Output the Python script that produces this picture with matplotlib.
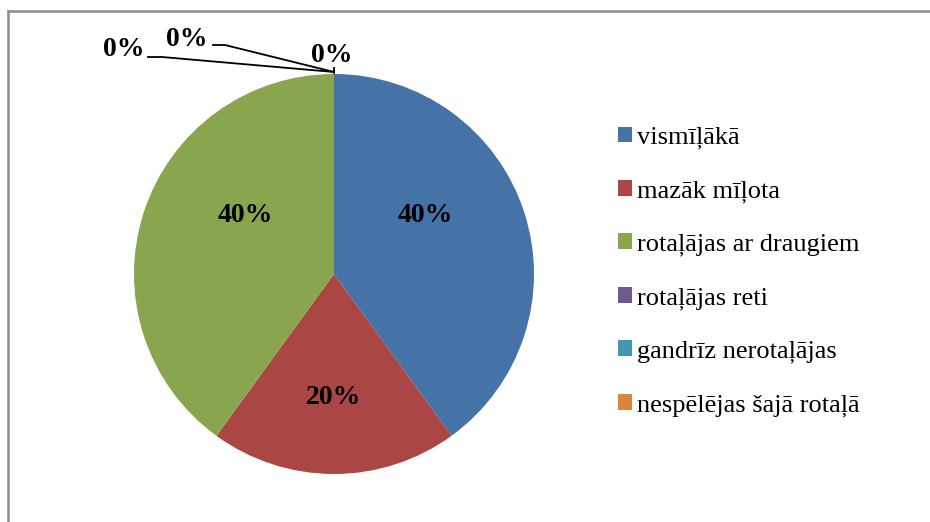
import matplotlib.pyplot as plt
from matplotlib.lines import Line2D
from matplotlib.patches import Rectangle

plt.rcParams['font.family'] = ['Liberation Serif', 'DejaVu Serif']

# data
categories = ['vismīļākā', 'mazāk mīļota', 'rotaļājas ar draugiem',
              'rotaļājas reti', 'gandrīz nerotaļājas', 'nespēlējas šajā rotaļā']
values = [40, 20, 40, 0, 0, 0]
colors = ['#4572A7', '#AA4643', '#89A54E', '#71588F', '#4198AF', '#DB843D']

fig = plt.figure(figsize=(9.3, 5.22), dpi=100)

# frame of the chart area
fig.add_artist(Line2D([8 / 930, 8 / 930], [0, 1 - 11 / 522], color='#8c8c8c', lw=1.8))
fig.add_artist(Line2D([8 / 930, 1], [1 - 11 / 522, 1 - 11 / 522], color='#8c8c8c', lw=1.8))

ax = fig.add_axes([134 / 930, 48 / 522, 400 / 930, 400 / 522])
wedges, _ = ax.pie(values, colors=colors, startangle=90, counterclock=False,
                   radius=1.0, wedgeprops=dict(linewidth=0))
ax.set_xlim(-1, 1)
ax.set_ylim(-1, 1)
ax.set_aspect('equal')

# percentage labels (positions like Excel's best fit)
total = sum(values)
label_pos = [(0.455, 0.295), (0.0, -0.62), (-0.445, 0.295),
             (-1.05, 1.12), (-0.735, 1.17), (-0.01, 1.09)]
for v, (lx, ly) in zip(values, label_pos):
    ax.text(lx, ly, f'{v / total * 100:.0f}%', ha='center', va='center',
            fontsize=20, fontweight='bold', clip_on=False)

# leader lines for the zero slices
leaders = [[(-0.93, 1.085), (-0.86, 1.085), (0, 1.01)],
           [(-0.605, 1.145), (-0.545, 1.145), (0, 1.01)],
           [(0, 1.03), (0, 1.005)]]
for pts in leaders:
    xs, ys = zip(*pts)
    ax.plot(xs, ys, color='black', lw=1.3, clip_on=False)

handles = [Rectangle((0, 0), 1, 1, facecolor=c) for c in colors]
fig.legend(handles, categories, loc='upper left', bbox_to_anchor=(607 / 930, 1 - 116 / 522),
           frameon=False, fontsize=19, handlelength=0.55, handleheight=0.55,
           handletextpad=0.2, labelspacing=1.16, borderaxespad=0)

plt.savefig('out.png', dpi=100, facecolor='white')
plt.close()
